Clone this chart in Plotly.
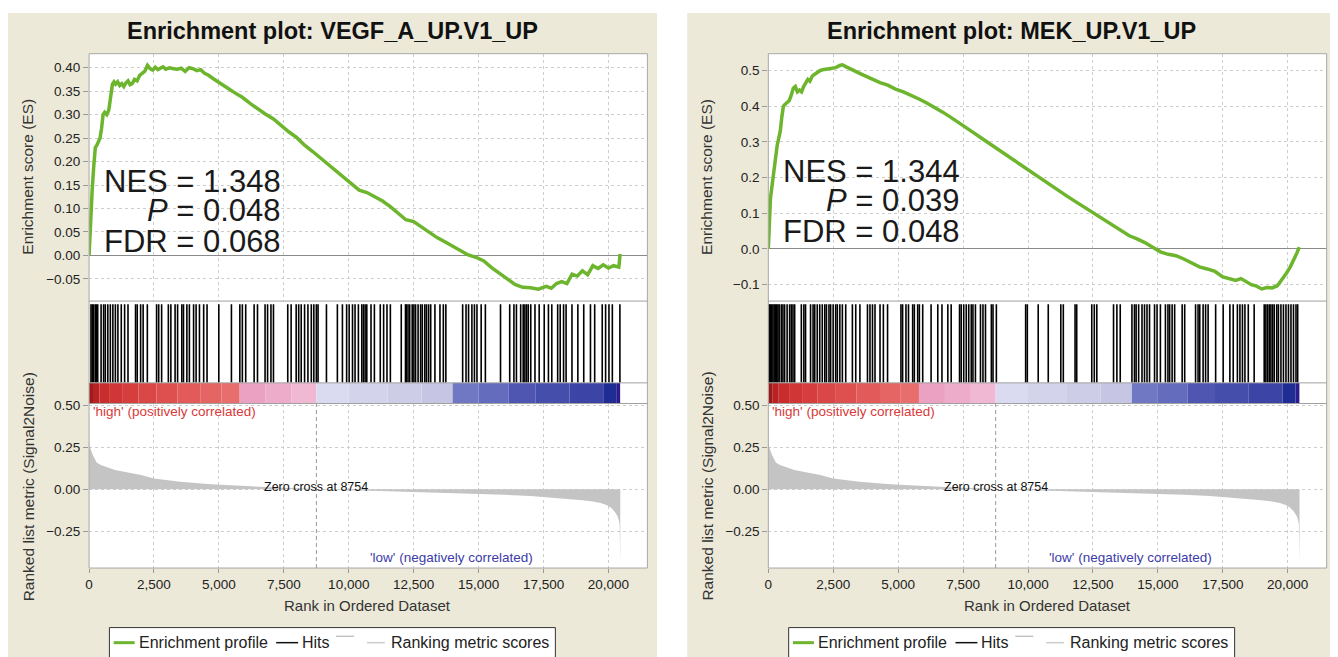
import plotly.graph_objects as go

W, H = 1338, 657
OFF_X, OFF_Y = 10, 9  # page body margin of the rendered html

# ---------------- data ----------------
x_ticks = [0, 2500, 5000, 7500, 10000, 12500, 15000, 17500, 20000]
zero_cross = 8754
x_max = 21500

# ranked list metric (Signal2Noise), same dataset for both plots
metric_rank = [0, 40, 130, 290, 450, 700, 1000, 1500, 2000, 2500, 3500, 4700, 6000, 7000, 8000,
               8754, 10000, 11200, 12500, 13600, 15000, 16000, 17000, 17700, 18500, 19000, 19400,
               19700, 19950, 20100, 20250, 20350, 20400, 20430, 20455]
metric_value = [0.28, 0.25, 0.21, 0.16, 0.145, 0.13, 0.115, 0.10, 0.085, 0.065, 0.045, 0.03, 0.018,
                0.012, 0.006, 0.0, -0.006, -0.010, -0.015, -0.020, -0.027, -0.033, -0.040, -0.048,
                -0.057, -0.065, -0.072, -0.082, -0.095, -0.11, -0.135, -0.16, -0.185, -0.21, -0.43]
metric_ticks = [-0.25, 0.0, 0.25, 0.50]

# colour-bar bands of the ranked list (rank edges)
band_edges = [0, 150, 400, 800, 1300, 1900, 2600, 3400, 4300, 5100, 5800, 6800, 7800, 8754,
              10000, 11500, 12800, 14000, 15000, 16150, 17200, 18500, 19800, 20300, 20450]

# VEGF_A_UP.V1_UP
vegf_title = "Enrichment plot: VEGF_A_UP.V1_UP"
vegf_stats = ["NES = 1.348", "<i>P</i> = 0.048", "FDR = 0.068"]
vegf_es_ticks = [-0.05, 0.0, 0.05, 0.10, 0.15, 0.20, 0.25, 0.30, 0.35, 0.40]
vegf_es_rank = [0, 60, 120, 180, 240, 300, 360, 420, 480, 540, 600, 680, 760, 830, 900, 960, 1020,
                1100, 1180, 1260, 1340, 1420, 1500, 1580, 1660, 1750, 1850, 1950, 2050, 2150, 2250,
                2350, 2450, 2550, 2650, 2750, 2850, 2950, 3100, 3250, 3400, 3550, 3700, 3850, 4000,
                4150, 4300, 4450, 4600, 4800, 5000, 5300, 5600, 5900, 6200, 6500, 6800, 7100, 7400,
                7700, 8000, 8300, 8600, 8900, 9200, 9500, 9800, 10100, 10400, 10700, 11000, 11300,
                11600, 11900, 12200, 12500, 12800, 13100, 13400, 13700, 14000, 14300, 14600, 14900,
                15200, 15500, 15800, 16100, 16400, 16700, 17000, 17300, 17600, 17800, 18000, 18200,
                18400, 18600, 18800, 19000, 19200, 19400, 19600, 19800, 20000, 20200, 20400, 20450]
vegf_es = [0.0, 0.08, 0.14, 0.19, 0.23, 0.235, 0.245, 0.25, 0.27, 0.30, 0.305, 0.30, 0.31, 0.34,
           0.365, 0.37, 0.365, 0.37, 0.362, 0.366, 0.36, 0.368, 0.372, 0.364, 0.366, 0.375, 0.372,
           0.384, 0.388, 0.393, 0.405, 0.398, 0.395, 0.401, 0.396, 0.400, 0.402, 0.397, 0.400,
           0.398, 0.397, 0.399, 0.392, 0.400, 0.398, 0.394, 0.396, 0.388, 0.384, 0.376, 0.368,
           0.358, 0.347, 0.337, 0.324, 0.312, 0.301, 0.291, 0.276, 0.263, 0.251, 0.235, 0.222,
           0.208, 0.194, 0.181, 0.165, 0.152, 0.139, 0.134, 0.126, 0.116, 0.104, 0.090, 0.076,
           0.072, 0.060, 0.049, 0.038, 0.029, 0.020, 0.010, 0.001, -0.004, -0.012, -0.026, -0.038,
           -0.050, -0.062, -0.068, -0.069, -0.072, -0.066, -0.070, -0.060, -0.056, -0.060, -0.040,
           -0.044, -0.033, -0.041, -0.022, -0.028, -0.020, -0.027, -0.022, -0.025, 0.003]
vegf_hits = [74, 123, 171, 236, 285, 333, 463, 560, 625, 722, 819, 916, 1013, 1110, 1240, 1369,
             1499, 1790, 1855, 1985, 2082, 2244, 2600, 2681, 2794, 3053, 3150, 3312, 3409, 3571,
             3636, 3766, 3863, 4025, 4122, 4251, 4413, 4543, 4996, 5482, 5806, 5903, 6032, 6356,
             6486, 6777, 6874, 7004, 7101, 7651, 7781, 7975, 8072, 8169, 8299, 8428, 8558, 8655,
             8752, 8817, 9141, 9562, 9756, 9918, 10015, 10144, 10242, 10371, 10501, 10565, 10630,
             10695, 10857, 10987, 11213, 11343, 11472, 11602, 12022, 12184, 12217, 12282, 12346,
             12443, 12508, 12573, 12670, 12767, 12832, 12929, 12994, 13075, 13156, 13318, 13512,
             13642, 13739, 14386, 14516, 14613, 14742, 14840, 14937, 15099, 15261, 15844, 16198,
             16360, 16457, 16620, 16717, 16782, 16847, 16912, 17009, 17171, 17333, 17527, 17689,
             17819, 18045, 18142, 18272, 18369, 18596, 18822, 19049, 19308, 19470, 19761, 19891,
             20020, 20150, 20441]

# MEK_UP.V1_UP
mek_title = "Enrichment plot: MEK_UP.V1_UP"
mek_stats = ["NES = 1.344", "<i>P</i> = 0.039", "FDR = 0.048"]
mek_es_ticks = [-0.1, 0.0, 0.1, 0.2, 0.3, 0.4, 0.5]
mek_es_rank = [0, 30, 80, 130, 180, 230, 280, 340, 400, 460, 520, 580, 640, 720, 800, 880, 960,
               1040, 1120, 1200, 1280, 1360, 1440, 1520, 1600, 1700, 1800, 1900, 2000, 2150, 2300,
               2450, 2600, 2750, 2850, 3000, 3200, 3400, 3600, 3800, 4000, 4300, 4600, 4900, 5200,
               5500, 5800, 6100, 6400, 6700, 7000, 7300, 7600, 7900, 8200, 8500, 8800, 9100, 9400,
               9700, 10000, 10300, 10600, 10900, 11200, 11500, 11800, 12100, 12400, 12700, 13000,
               13300, 13600, 13900, 14200, 14500, 14800, 15100, 15400, 15700, 16000, 16300, 16600,
               16900, 17200, 17500, 17800, 18000, 18200, 18400, 18600, 18800, 19000, 19200, 19400,
               19600, 19800, 19950, 20100, 20250, 20350, 20445]
mek_es = [0.0, 0.09, 0.14, 0.17, 0.20, 0.23, 0.27, 0.29, 0.31, 0.33, 0.37, 0.40, 0.405, 0.41,
          0.415, 0.43, 0.45, 0.455, 0.44, 0.445, 0.44, 0.455, 0.465, 0.475, 0.47, 0.485, 0.49,
          0.495, 0.50, 0.503, 0.505, 0.507, 0.508, 0.514, 0.516, 0.510, 0.502, 0.496, 0.489,
          0.482, 0.476, 0.466, 0.459, 0.448, 0.440, 0.431, 0.420, 0.409, 0.397, 0.384, 0.370,
          0.356, 0.341, 0.326, 0.311, 0.296, 0.281, 0.266, 0.251, 0.236, 0.221, 0.206, 0.191,
          0.177, 0.162, 0.148, 0.134, 0.120, 0.106, 0.093, 0.079, 0.066, 0.050, 0.037, 0.028,
          0.018, 0.005, -0.008, -0.015, -0.019, -0.028, -0.040, -0.050, -0.056, -0.063, -0.078,
          -0.084, -0.088, -0.083, -0.092, -0.100, -0.104, -0.112, -0.108, -0.109, -0.103, -0.084,
          -0.068, -0.050, -0.030, -0.012, 0.005]
mek_hits = [10, 30, 79, 127, 176, 224, 272, 321, 369, 417, 498, 562, 627, 723, 820, 885, 949,
            1014, 1271, 1368, 1433, 1626, 1723, 1787, 1884, 1980, 2077, 2174, 2238, 2335, 2399,
            2496, 2593, 2657, 2754, 2851, 2980, 3237, 3366, 3527, 3818, 3914, 4011, 4108, 4301,
            4430, 4591, 5107, 5171, 5300, 5397, 5558, 5622, 5751, 5816, 5945, 6267, 6525, 6686,
            6912, 7041, 7363, 7427, 7524, 7621, 7717, 7814, 7879, 7975, 8169, 8265, 8362, 8588,
            8652, 8781, 9909, 9973, 10392, 10779, 11263, 11359, 11811, 11875, 12455, 12552, 12649,
            13293, 13422, 13551, 14002, 14099, 14163, 14260, 14389, 14486, 14582, 14679, 14872,
            14969, 15098, 15291, 15388, 15453, 15549, 15646, 15936, 16033, 16452, 16548, 16613,
            16742, 16838, 16935, 17225, 17515, 17773, 17902, 18063, 18160, 18257, 18353, 18482,
            18708, 19095, 19159, 19223, 19288, 19352, 19417, 19481, 19578, 19642, 19739, 19836,
            19933, 20029, 20126, 20223, 20319, 20384]

# ---------------- styles ----------------
FONT = "Liberation Sans, Arial, sans-serif"
GREEN = "#6cb52d"
BEIGE = "#ECE9D8"
GRID = "#cdcdcd"
BAND_COLORS = ['#a01818', '#b82222', '#c82c2c', '#d03636', '#d63e3e', '#da4747', '#de5050',
               '#e25a5a', '#e56464', '#e86e6e', '#eba2c2', '#eeaccb', '#f1b8d4', '#dadaf0',
               '#d3d3ec', '#cdcde8', '#c6c6e4', '#7078c4', '#646cbe', '#4e56b2', '#464eac',
               '#3c44a6', '#1e2c94', '#2a1c8c']


def px(x):
    return (x - OFF_X) / W


def py(y):
    return 1 - (y - OFF_Y) / H


fig = go.Figure()
layout = dict(width=W, height=H, margin=dict(l=0, r=0, t=0, b=0), paper_bgcolor="white",
              plot_bgcolor="rgba(0,0,0,0)", showlegend=False, font=dict(family=FONT, color="#222"))
shapes, annotations = [], []


def aname(prefix, n):
    return prefix if n == 1 else f"{prefix}{n}"


def note(text, x, y, size, color="#222", xanchor="center", xref="paper", angle=0):
    annotations.append(dict(text=text, xref=xref, yref="paper", x=x, y=y, xanchor=xanchor,
                            yanchor="middle", showarrow=False, textangle=angle,
                            font=dict(size=size, color=color, family=FONT)))


def panel(idx, dx, title, stats, stat_ys, es_rank, es_vals, hits, es_ticks, es_fmt, es_range):
    ids = [idx * 4 + 1, idx * 4 + 2, idx * 4 + 3, idx * 4 + 4]
    L, R = 87.3 + dx, 647.3 + dx
    xdom = [px(L), px(R)]
    tops = [50, 299.3, 381.7, 402.5, 568.3]
    tick_font = dict(size=13.5, color="#222", family=FONT)
    for j, n in enumerate(ids):
        xa = dict(domain=xdom, range=[0, x_max], anchor=aname("y", n), showline=False,
                  zeroline=False, tickvals=x_ticks, showticklabels=False, ticks="",
                  showgrid=(j in (0, 3)), gridcolor=GRID, griddash="3px,3px", gridwidth=1,
                  fixedrange=True)
        if j == 3:
            xa.update(showticklabels=True, tickformat=",d", ticks="outside", ticklen=4,
                      tickcolor="#999", tickfont=tick_font)
        layout[aname("xaxis", n)] = xa
        ya = dict(domain=[py(tops[j + 1]), py(tops[j])], anchor=aname("x", n), showline=False,
                  zeroline=False, fixedrange=True)
        if j == 0:
            ya.update(range=es_range, tickvals=es_ticks, tickformat=es_fmt, ticks="outside",
                      ticklen=5, tickcolor="#999", showgrid=True, gridcolor=GRID,
                      griddash="3px,3px", zeroline=True, zerolinecolor="#8a8a8a",
                      zerolinewidth=1, tickfont=tick_font)
        elif j == 3:
            ya.update(range=[-0.4695, 0.512], tickvals=metric_ticks, tickformat=".2f",
                      ticks="outside", ticklen=5, tickcolor="#999", showgrid=True,
                      gridcolor=GRID, griddash="3px,3px", tickfont=tick_font)
        else:
            ya.update(range=[0, 1], visible=False)
        layout[aname("yaxis", n)] = ya

    xr = [aname("x", n) for n in ids]
    yr = [aname("y", n) for n in ids]

    # ranked list metric
    fig.add_trace(go.Scatter(x=metric_rank, y=metric_value, mode="lines", fill="tozeroy",
                             fillcolor="#c4c4c4", line=dict(width=0, color="#c4c4c4"),
                             name="Ranking metric scores", xaxis=xr[3], yaxis=yr[3]))
    # hits
    hx, hy = [], []
    for h in hits:
        hx += [h, h, None]
        hy += [0, 0.96, None]
    fig.add_trace(go.Scatter(x=hx, y=hy, mode="lines", line=dict(color="black", width=1.6),
                             name="Hits", xaxis=xr[1], yaxis=yr[1]))
    # colour bar
    centers = [(band_edges[i] + band_edges[i + 1]) / 2 for i in range(len(band_edges) - 1)]
    widths = [band_edges[i + 1] - band_edges[i] for i in range(len(band_edges) - 1)]
    fig.add_trace(go.Bar(x=centers, y=[1] * len(centers), width=widths, base=0,
                         marker=dict(color=BAND_COLORS, line=dict(width=0)),
                         xaxis=xr[2], yaxis=yr[2]))
    # enrichment profile
    fig.add_trace(go.Scatter(x=es_rank, y=es_vals, mode="lines",
                             line=dict(color=GREEN, width=3.5), name="Enrichment profile",
                             xaxis=xr[0], yaxis=yr[0]))

    # background + frame shapes
    shapes.append(dict(type="rect", xref="paper", yref="paper", x0=px(6 + dx), x1=px(657 + dx),
                       y0=py(700), y1=py(9), fillcolor=BEIGE, line=dict(width=0), layer="below"))
    shapes.append(dict(type="rect", xref="paper", yref="paper", x0=px(L), x1=px(R),
                       y0=py(568.3), y1=py(50), fillcolor="white", line=dict(width=0),
                       layer="below"))
    shapes.append(dict(type="rect", xref="paper", yref="paper", x0=px(L), x1=px(R),
                       y0=py(568.3), y1=py(50), line=dict(color="#a8a8a8", width=1),
                       layer="above"))
    for yy in (299.3, 381.7, 402.5):
        shapes.append(dict(type="line", xref="paper", yref="paper", x0=px(L), x1=px(R),
                           y0=py(yy), y1=py(yy), line=dict(color="#a0a0a0", width=1),
                           layer="above"))
    shapes.append(dict(type="line", xref=xr[3], yref="paper", x0=zero_cross, x1=zero_cross,
                       y0=py(568.3), y1=py(402.5),
                       line=dict(color="#9a9a9a", width=1, dash="4px,3px"), layer="above"))

    # texts
    note(f"<b>{title}</b>", px(331.5 + dx), py(27), 23.5, "#111")
    for s, yy in zip(stats, stat_ys):
        note(s, px(282 + dx), py(yy), 31, "#1a1a1a", xanchor="right")
    note("Enrichment score (ES)", px(26 + dx), py(174), 15.5, "#333", angle=-90)
    note("Ranked list metric (Signal2Noise)", px(26 + dx), py(486), 15.5, "#333", angle=-90)
    note("Rank in Ordered Dataset", px(367 + dx), py(606), 15, "#333")
    note("'high' (positively correlated)", px(89 + dx), py(411), 13.5, "#d83a3a", xanchor="left")
    note("'low' (negatively correlated)", px(450.5 + dx), py(558), 13.5, "#3c3ca8")
    note("Zero cross at 8754", zero_cross, py(487), 12.5, "#111", xref=xr[3])

    # legend box
    shapes.append(dict(type="rect", xref="paper", yref="paper", x0=px(107.7 + dx),
                       x1=px(555 + dx), y0=py(680), y1=py(628.3), fillcolor="white",
                       line=dict(color="#333", width=1), layer="above"))
    for x0, x1, yy, col, wd in [(112, 133, 643.5, GREEN, 3), (275, 297, 643.5, "#111", 1.5),
                                (335, 353, 637, "#aaa", 1), (366, 384, 643.5, "#cccccc", 1.5)]:
        shapes.append(dict(type="line", xref="paper", yref="paper", x0=px(x0 + dx),
                           x1=px(x1 + dx), y0=py(yy), y1=py(yy), line=dict(color=col, width=wd),
                           layer="above"))
    for txt, x0 in [("Enrichment profile", 135), ("Hits", 298.5), ("Ranking metric scores", 388)]:
        note(txt, px(x0 + dx), py(643.5), 16, "#222", xanchor="left")


panel(0, 0, vegf_title, vegf_stats, [179, 208, 239], vegf_es_rank, vegf_es, vegf_hits,
      vegf_es_ticks, ".2f", [-0.0974, 0.430])
panel(1, 681.3, mek_title, mek_stats, [169, 197.5, 229], mek_es_rank, mek_es, mek_hits,
      mek_es_ticks, ".1f", [-0.146, 0.547])

layout["shapes"] = shapes
layout["annotations"] = annotations
fig.update_layout(**layout)
fig.write_html("out.html")
